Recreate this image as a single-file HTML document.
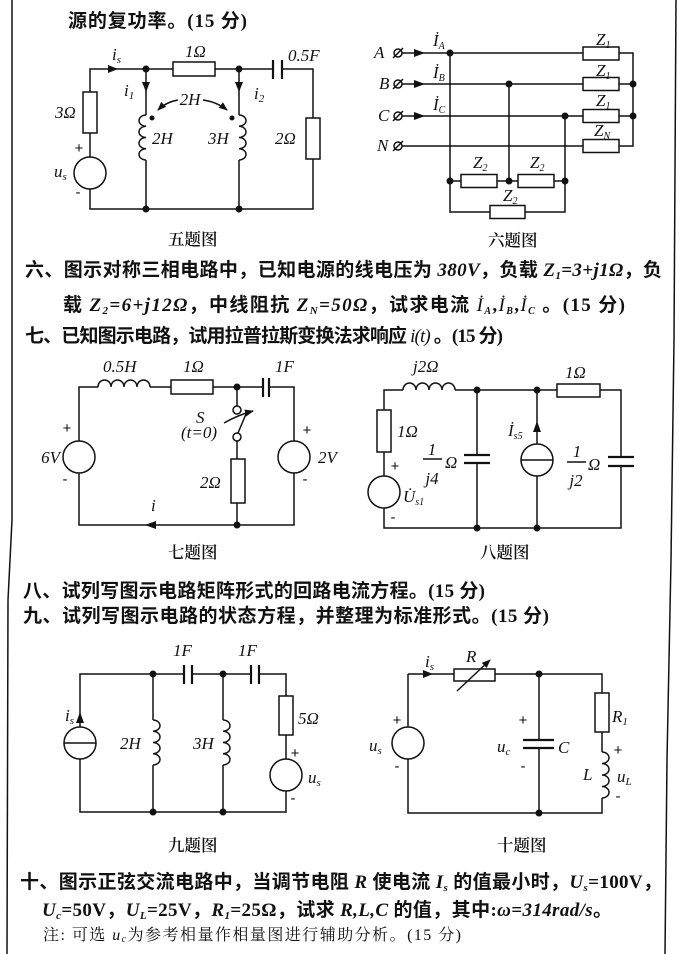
<!DOCTYPE html>
<html><head><meta charset="utf-8">
<style>
html,body{margin:0;padding:0;background:#fff;}
svg{display:block;}
.t{font-family:"Liberation Serif","Noto Sans CJK SC",sans-serif;font-weight:bold;font-size:19px;fill:#111;}
.n{font-family:"Liberation Serif","Noto Serif CJK SC",serif;font-weight:normal;font-size:16px;fill:#111;}
.l{font-family:"Liberation Serif",serif;font-style:italic;font-size:17px;fill:#111;}
.cap{font-family:"Liberation Serif","Noto Serif CJK SC",serif;font-size:16.5px;fill:#111;font-weight:600;}
.pm{font-family:"Liberation Sans",sans-serif;font-size:15px;fill:#111;text-anchor:middle;}
.w{stroke:#111;stroke-width:1.5;fill:none;}
.r{stroke:#111;stroke-width:1.5;fill:#fff;}
.p{stroke:#111;stroke-width:2.2;}
.d{fill:#111;}
</style></head><body>
<svg width="699" height="954" viewBox="0 0 699 954" xmlns="http://www.w3.org/2000/svg">
<defs>
<marker id="ah" markerWidth="9" markerHeight="8" refX="8" refY="4" orient="auto" markerUnits="userSpaceOnUse"><path d="M0,0.5 L9,4 L0,7.5 z" fill="#111"/></marker>
</defs>
<rect width="699" height="954" fill="#fff"/>
<!-- page borders -->
<polyline class="w" points="12,0 12,520 8,600 7,954" stroke-width="1.3"/>
<polyline class="w" points="676,0 674,340 671,560 667,760 665,954" stroke-width="1.3"/>

<!-- ============ TEXT ============ -->
<text class="t" x="68" y="27" textLength="179" lengthAdjust="spacing">源的复功率。(15 分)</text>

<text class="t" x="25" y="276" font-size="18.5" textLength="637" lengthAdjust="spacing">六、图示对称三相电路中，已知电源的线电压为 <tspan font-style="italic">380V</tspan>，负载 <tspan font-style="italic">Z</tspan><tspan font-size="11" dy="3" font-style="italic">1</tspan><tspan dy="-3" font-style="italic">=3+j1Ω</tspan>，负</text>

<text class="t" x="63" y="311" textLength="562" lengthAdjust="spacing">载 <tspan font-style="italic">Z</tspan><tspan font-size="11" dy="3" font-style="italic">2</tspan><tspan dy="-3" font-style="italic">=6+j12Ω</tspan>，中线阻抗 <tspan font-style="italic">Z</tspan><tspan font-size="11" dy="3" font-style="italic">N</tspan><tspan dy="-3" font-style="italic">=50Ω</tspan>，试求电流 <tspan font-style="italic" font-weight="normal">İ</tspan><tspan font-size="10" dy="3" font-style="italic">A</tspan><tspan dy="-3">,</tspan><tspan font-style="italic" font-weight="normal">İ</tspan><tspan font-size="10" dy="3" font-style="italic">B</tspan><tspan dy="-3">,</tspan><tspan font-style="italic" font-weight="normal">İ</tspan><tspan font-size="10" dy="3" font-style="italic">C</tspan><tspan dy="-3"> 。(15 分)</tspan></text>

<text class="t" x="25" y="342" textLength="478" lengthAdjust="spacing">七、已知图示电路，试用拉普拉斯变换法求响应 <tspan font-style="italic" font-weight="normal">i(t)</tspan> 。(15 分)</text>

<text class="t" x="23" y="597" textLength="462" lengthAdjust="spacing">八、试列写图示电路矩阵形式的回路电流方程。(15 分)</text>
<text class="t" x="23" y="622" textLength="526" lengthAdjust="spacing">九、试列写图示电路的状态方程，并整理为标准形式。(15 分)</text>

<text class="t" x="20" y="888" textLength="642" lengthAdjust="spacing">十、图示正弦交流电路中，当调节电阻 <tspan font-style="italic">R</tspan> 使电流 <tspan font-style="italic">I</tspan><tspan font-size="11" dy="3" font-style="italic">s</tspan><tspan dy="-3"> 的值最小时，</tspan><tspan font-style="italic">U</tspan><tspan font-size="11" dy="3" font-style="italic">s</tspan><tspan dy="-3">=100V，</tspan></text>

<text class="t" x="42" y="916" textLength="570" lengthAdjust="spacing"><tspan font-style="italic">U</tspan><tspan font-size="11" dy="3" font-style="italic">c</tspan><tspan dy="-3">=50V，</tspan><tspan font-style="italic">U</tspan><tspan font-size="11" dy="3" font-style="italic">L</tspan><tspan dy="-3">=25V，</tspan><tspan font-style="italic">R</tspan><tspan font-size="11" dy="3" font-style="italic">1</tspan><tspan dy="-3">=25Ω，试求 </tspan><tspan font-style="italic">R,L,C</tspan> 的值，其中:<tspan font-style="italic">ω=314rad/s</tspan>。</text>

<text class="n" x="43" y="940" textLength="418" lengthAdjust="spacing">注: 可选 <tspan font-style="italic">u</tspan><tspan font-size="10" dy="2" font-style="italic">c</tspan><tspan dy="-2">为参考相量作相量图进行辅助分析。(15 分)</tspan></text>

<!-- ============ CIRCUIT 5 ============ -->
<path class="w" d="M273,69 H90 V209 H313 V69 H282"/>
<path class="w" d="M146,69 V115 M146,160 V209 M239,69 V115 M239,160 V209"/>
<path class="w" d="M146,115 a7,5.625 0 0 0 0,11.25 a7,5.625 0 0 0 0,11.25 a7,5.625 0 0 0 0,11.25 a7,5.625 0 0 0 0,11.25"/>
<path class="w" d="M239,115 a7,5.625 0 0 1 0,11.25 a7,5.625 0 0 1 0,11.25 a7,5.625 0 0 1 0,11.25 a7,5.625 0 0 1 0,11.25"/>
<line class="p" x1="273" y1="60" x2="273" y2="79"/>
<line class="p" x1="282" y1="60" x2="282" y2="79"/>
<rect class="r" x="83" y="92" width="14" height="41"/>
<rect class="r" x="173" y="62" width="42" height="14"/>
<rect class="r" x="306" y="118" width="14" height="41"/>
<circle class="r" cx="90" cy="173" r="16"/>
<circle class="d" cx="146" cy="69" r="3.5"/><circle class="d" cx="239" cy="69" r="3.5"/>
<circle class="d" cx="146" cy="209" r="3.5"/><circle class="d" cx="239" cy="209" r="3.5"/>
<circle class="d" cx="152" cy="118" r="2.5"/><circle class="d" cx="232" cy="118" r="2.5"/>
<polygon class="d" points="108,65 118,69 108,73"/>
<polygon class="d" points="142,82 146,92 150,82"/>
<polygon class="d" points="235,82 239,92 243,82"/>
<path class="w" d="M178,100 Q166,102 158,110" marker-end="url(#ah)"/>
<path class="w" d="M203,100 Q217,102 227,110" marker-end="url(#ah)"/>
<text class="l" x="112" y="60">i<tspan font-size="11" dy="3">s</tspan></text>
<text class="l" x="185" y="57">1Ω</text>
<text class="l" x="288" y="61">0.5F</text>
<text class="l" x="55" y="118">3Ω</text>
<text class="pm" x="79" y="153">+</text>
<text class="pm" x="78" y="197">-</text>
<text class="l" x="54" y="177">u<tspan font-size="11" dy="3">s</tspan></text>
<text class="l" x="124" y="96">i<tspan font-size="11" dy="3">1</tspan></text>
<text class="l" x="254" y="99">i<tspan font-size="11" dy="3">2</tspan></text>
<text class="l" x="190" y="105" text-anchor="middle">2H</text>
<text class="l" x="152" y="144">2H</text>
<text class="l" x="208" y="144">3H</text>
<text class="l" x="275" y="144">2Ω</text>
<text class="cap" x="168" y="245">五题图</text>

<!-- ============ CIRCUIT 6 ============ -->
<path class="w" d="M402,53 H583 M619,53 H633 V146 H619 M402,84 H583 M619,84 H633 M402,116 H583 M619,116 H633 M402,146 H583"/>
<path class="w" d="M450,53 V212 H565 V116 M509,84 V181 M450,181 H565"/>
<rect class="r" x="583" y="47" width="36" height="13"/>
<rect class="r" x="583" y="77.5" width="36" height="13"/>
<rect class="r" x="583" y="109.5" width="36" height="13"/>
<rect class="r" x="583" y="139.5" width="36" height="13"/>
<rect class="r" x="461" y="174.5" width="36" height="13"/>
<rect class="r" x="518" y="174.5" width="36" height="13"/>
<rect class="r" x="490" y="205.5" width="35" height="13"/>
<circle class="d" cx="450" cy="53" r="3.5"/><circle class="d" cx="509" cy="84" r="3.5"/>
<circle class="d" cx="565" cy="116" r="3.5"/><circle class="d" cx="633" cy="84" r="3.5"/>
<circle class="d" cx="633" cy="116" r="3.5"/><circle class="d" cx="450" cy="181" r="3.5"/>
<circle class="d" cx="509" cy="181" r="3.5"/><circle class="d" cx="565" cy="181" r="3.5"/>
<g class="w">
<circle cx="398" cy="53" r="4"/><line x1="393" y1="58" x2="403" y2="48"/>
<circle cx="398" cy="84" r="4"/><line x1="393" y1="89" x2="403" y2="79"/>
<circle cx="398" cy="116" r="4"/><line x1="393" y1="121" x2="403" y2="111"/>
<circle cx="398" cy="146" r="4"/><line x1="393" y1="151" x2="403" y2="141"/>
</g>
<polygon class="d" points="414,49 425,53 414,57"/>
<polygon class="d" points="414,80 425,84 414,88"/>
<polygon class="d" points="414,112 425,116 414,120"/>
<text class="l" x="374" y="58">A</text>
<text class="l" x="379" y="89">B</text>
<text class="l" x="378" y="121">C</text>
<text class="l" x="377" y="151">N</text>
<text class="l" x="433" y="46">İ<tspan font-size="10" dy="3">A</tspan></text>
<text class="l" x="433" y="78">İ<tspan font-size="10" dy="3">B</tspan></text>
<text class="l" x="433" y="110">İ<tspan font-size="10" dy="3">C</tspan></text>
<text class="l" x="596" y="45" font-size="15">Z<tspan font-size="10" dy="3">1</tspan></text>
<text class="l" x="596" y="76" font-size="15">Z<tspan font-size="10" dy="3">1</tspan></text>
<text class="l" x="596" y="106" font-size="15">Z<tspan font-size="10" dy="3">1</tspan></text>
<text class="l" x="594" y="136" font-size="15">Z<tspan font-size="10" dy="3">N</tspan></text>
<text class="l" x="473" y="168" font-size="15">Z<tspan font-size="10" dy="3">2</tspan></text>
<text class="l" x="530" y="168" font-size="15">Z<tspan font-size="10" dy="3">2</tspan></text>
<text class="l" x="503" y="201" font-size="15">Z<tspan font-size="10" dy="3">2</tspan></text>
<text class="cap" x="488" y="246">六题图</text>

<!-- ============ CIRCUIT 7 ============ -->
<path class="w" d="M98,387 H79 V525 H294 V387 H269 M263,387 H150"/>
<path class="w" d="M98,387 a6.5,7 0 0 1 13,0 a6.5,7 0 0 1 13,0 a6.5,7 0 0 1 13,0 a6.5,7 0 0 1 13,0"/>
<path class="w" d="M237,387 V406 M237,441 V525"/>
<circle class="r" cx="237" cy="410" r="4"/>
<circle class="r" cx="237" cy="437" r="4"/>
<line class="w" x1="238" y1="433" x2="246" y2="414"/>
<path class="w" d="M224,423 Q238,415 253,411" marker-end="url(#ah)"/>
<line class="p" x1="263" y1="378" x2="263" y2="397"/>
<line class="p" x1="269" y1="378" x2="269" y2="397"/>
<rect class="r" x="171" y="380" width="42" height="14"/>
<rect class="r" x="231" y="459" width="14" height="44"/>
<circle class="r" cx="79" cy="457" r="16"/>
<circle class="r" cx="294" cy="457" r="16"/>
<circle class="d" cx="237" cy="387" r="3.5"/><circle class="d" cx="237" cy="525" r="3.5"/>
<polygon class="d" points="145,525 156,521 156,529"/>
<text class="l" x="103" y="372">0.5H</text>
<text class="l" x="183" y="372">1Ω</text>
<text class="l" x="275" y="372">1F</text>
<text class="pm" x="67" y="433">+</text>
<text class="pm" x="65" y="484">-</text>
<text class="l" x="60" y="463" text-anchor="end">6V</text>
<text class="pm" x="307" y="435">+</text>
<text class="pm" x="305" y="484">-</text>
<text class="l" x="318" y="463">2V</text>
<text class="l" x="196" y="423">S</text>
<text class="l" x="181" y="438" font-size="15">(t=0)</text>
<text class="l" x="200" y="488">2Ω</text>
<text class="l" x="151" y="511" font-size="15">i</text>
<text class="cap" x="168" y="558">七题图</text>

<!-- ============ CIRCUIT 8 ============ -->
<path class="w" d="M403,390 H384 V528 H621 V466 M621,457 V390 H600 M557,390 H455"/>
<path class="w" d="M403,390 a6.5,7 0 0 1 13,0 a6.5,7 0 0 1 13,0 a6.5,7 0 0 1 13,0 a6.5,7 0 0 1 13,0"/>
<path class="w" d="M477,390 V455 M477,463 V528 M537,390 V528"/>
<line class="p" x1="464" y1="455" x2="490" y2="455"/>
<line class="p" x1="464" y1="463" x2="490" y2="463"/>
<line class="p" x1="608" y1="457" x2="634" y2="457"/>
<line class="p" x1="608" y1="466" x2="634" y2="466"/>
<rect class="r" x="377" y="410" width="14" height="42"/>
<rect class="r" x="557" y="384" width="43" height="13"/>
<circle class="r" cx="384" cy="492" r="16"/>
<circle class="r" cx="537" cy="460" r="16"/>
<line class="w" x1="521" y1="460" x2="553" y2="460"/>
<polygon class="d" points="533,432 537,421 541,432"/>
<circle class="d" cx="477" cy="390" r="3.5"/><circle class="d" cx="537" cy="390" r="3.5"/>
<circle class="d" cx="477" cy="528" r="3.5"/><circle class="d" cx="537" cy="528" r="3.5"/>
<text class="l" x="413" y="372">j2Ω</text>
<text class="l" x="565" y="378">1Ω</text>
<text class="l" x="397" y="437">1Ω</text>
<text class="pm" x="395" y="471">+</text>
<text class="pm" x="393" y="522">-</text>
<text class="l" x="403" y="502">U̇<tspan font-size="10" dy="3">s1</tspan></text>
<text class="l" x="432" y="455" text-anchor="middle" font-size="16">1</text>
<line class="w" x1="423" y1="459" x2="442" y2="459" stroke-width="1.2"/>
<text class="l" x="432" y="484" text-anchor="middle" font-size="16">j4</text>
<text class="l" x="445" y="468" font-style="normal">Ω</text>
<text class="l" x="508" y="436">İ<tspan font-size="10" dy="3">s5</tspan></text>
<text class="l" x="577" y="457" text-anchor="middle" font-size="16">1</text>
<line class="w" x1="567" y1="462" x2="586" y2="462" stroke-width="1.2"/>
<text class="l" x="576" y="486" text-anchor="middle" font-size="16">j2</text>
<text class="l" x="588" y="470" font-style="normal">Ω</text>
<text class="cap" x="480" y="558">八题图</text>

<!-- ============ CIRCUIT 9 ============ -->
<path class="w" d="M184,674 H80 V812 H286 V674 H259 M251,674 H192"/>
<path class="w" d="M153,674 V720 M153,765 V812 M223,674 V720 M223,765 V812"/>
<path class="w" d="M153,720 a7,5.625 0 0 1 0,11.25 a7,5.625 0 0 1 0,11.25 a7,5.625 0 0 1 0,11.25 a7,5.625 0 0 1 0,11.25"/>
<path class="w" d="M223,720 a7,5.625 0 0 1 0,11.25 a7,5.625 0 0 1 0,11.25 a7,5.625 0 0 1 0,11.25 a7,5.625 0 0 1 0,11.25"/>
<line class="p" x1="184" y1="665" x2="184" y2="684"/>
<line class="p" x1="192" y1="665" x2="192" y2="684"/>
<line class="p" x1="251" y1="665" x2="251" y2="684"/>
<line class="p" x1="259" y1="665" x2="259" y2="684"/>
<rect class="r" x="279" y="696" width="14" height="39"/>
<circle class="r" cx="286" cy="775" r="16"/>
<circle class="r" cx="80" cy="743" r="16"/>
<line class="w" x1="64" y1="743" x2="96" y2="743"/>
<polygon class="d" points="76,723 80,712 84,723"/>
<circle class="d" cx="153" cy="674" r="3.5"/><circle class="d" cx="223" cy="674" r="3.5"/>
<circle class="d" cx="153" cy="812" r="3.5"/><circle class="d" cx="223" cy="812" r="3.5"/>
<text class="l" x="173" y="656">1F</text>
<text class="l" x="238" y="656">1F</text>
<text class="l" x="298" y="724">5Ω</text>
<text class="pm" x="295" y="758">+</text>
<text class="pm" x="293" y="803">-</text>
<text class="l" x="308" y="783">u<tspan font-size="11" dy="3">s</tspan></text>
<text class="l" x="65" y="721">i<tspan font-size="11" dy="3">s</tspan></text>
<text class="l" x="120" y="749">2H</text>
<text class="l" x="193" y="749">3H</text>
<text class="cap" x="168" y="851">九题图</text>

<!-- ============ CIRCUIT 10 ============ -->
<path class="w" d="M408,674 H602 V693 M602,732 V752 M602,798 V813 H408 V674"/>
<path class="w" d="M602,752 a7,5.75 0 0 1 0,11.5 a7,5.75 0 0 1 0,11.5 a7,5.75 0 0 1 0,11.5 a7,5.75 0 0 1 0,11.5"/>
<path class="w" d="M539,674 V740 M539,748 V813"/>
<line class="p" x1="523" y1="740" x2="554" y2="740"/>
<line class="p" x1="523" y1="748" x2="554" y2="748"/>
<rect class="r" x="454" y="669" width="41" height="12"/>
<line class="w" x1="457" y1="691" x2="490" y2="660" marker-end="url(#ah)"/>
<rect class="r" x="595" y="693" width="14" height="39"/>
<circle class="r" cx="408" cy="743" r="16"/>
<polygon class="d" points="423,670 433,674 423,678"/>
<circle class="d" cx="539" cy="674" r="3.5"/><circle class="d" cx="539" cy="813" r="3.5"/>
<text class="l" x="425" y="667">i<tspan font-size="11" dy="3">s</tspan></text>
<text class="l" x="466" y="662">R</text>
<text class="pm" x="397" y="725">+</text>
<text class="pm" x="397" y="771">-</text>
<text class="l" x="369" y="751">u<tspan font-size="11" dy="3">s</tspan></text>
<text class="pm" x="523" y="725">+</text>
<text class="l" x="497" y="752">u<tspan font-size="11" dy="3">c</tspan></text>
<text class="pm" x="523" y="771">-</text>
<text class="l" x="558" y="753">C</text>
<text class="l" x="612" y="722">R<tspan font-size="11" dy="3">1</tspan></text>
<text class="pm" x="618" y="755">+</text>
<text class="l" x="617" y="782">u<tspan font-size="11" dy="3">L</tspan></text>
<text class="pm" x="618" y="801">-</text>
<text class="l" x="583" y="780">L</text>
<text class="cap" x="497" y="851">十题图</text>
</svg>
</body></html>
